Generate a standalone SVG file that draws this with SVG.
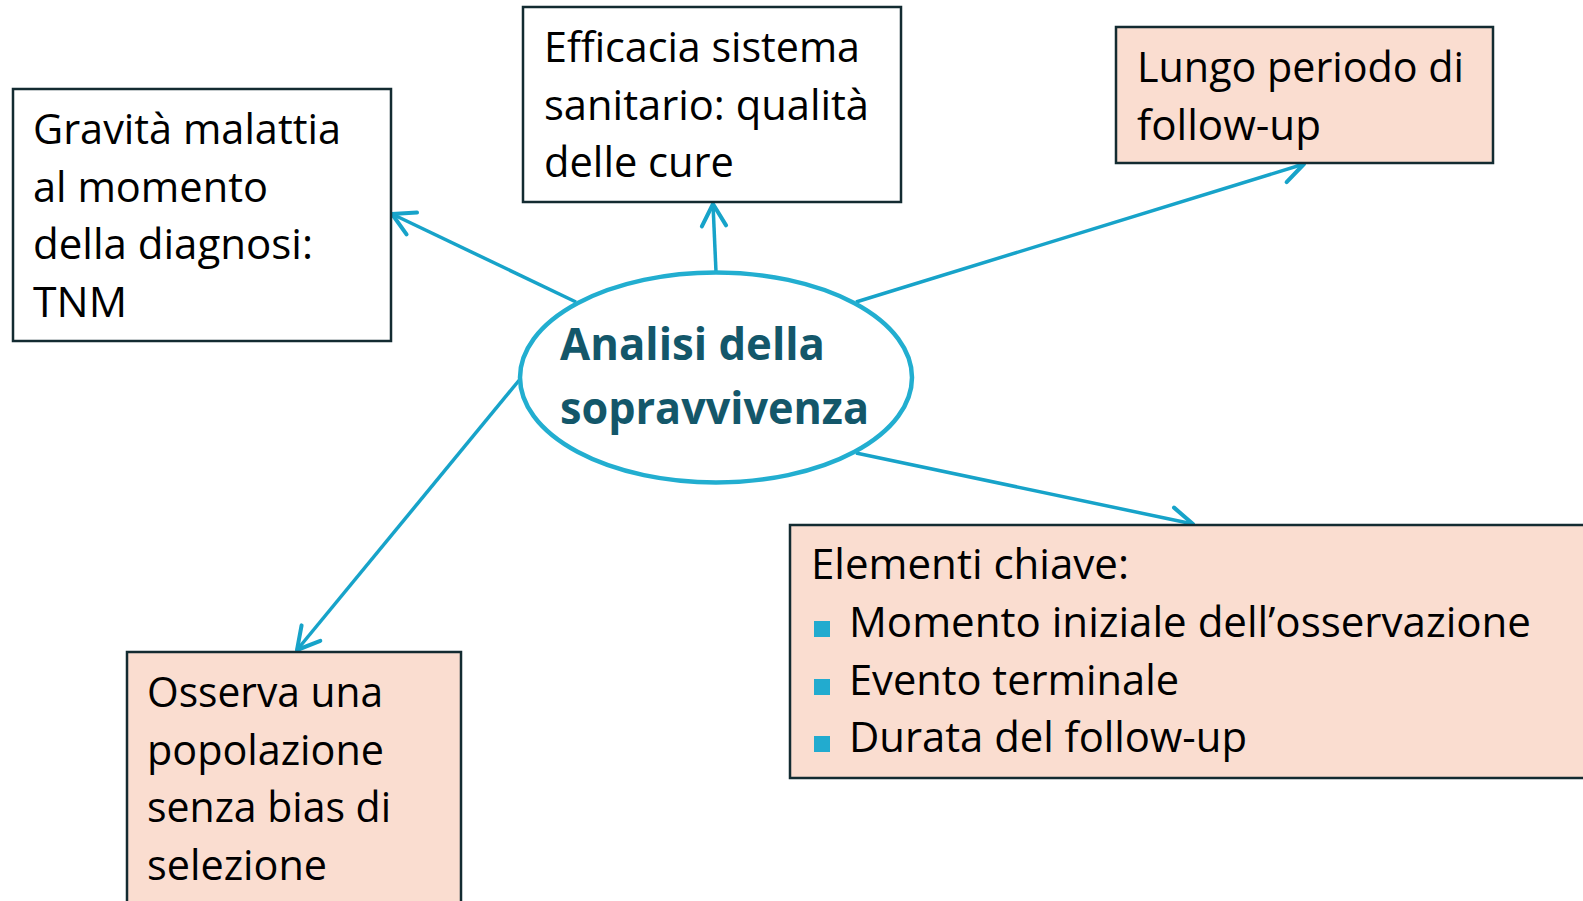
<svg xmlns="http://www.w3.org/2000/svg" width="1583" height="901" viewBox="0 0 1583 901">
<style>
.box{stroke:#132B31;stroke-width:2.5}
.white{fill:#FFFFFF}
.peach{fill:#FADDD0}
.t{font-family:"Open Sans","Noto Sans",sans-serif;font-size:42px;fill:#000000}
.title{font-family:"Open Sans","Noto Sans",sans-serif;font-size:44px;font-weight:bold;fill:#13576A}
.conn{stroke:#17A3C9;stroke-width:3.5;fill:none}
.bul{fill:#22ABCF}
</style>
<defs>
<marker id="arr" markerUnits="userSpaceOnUse" markerWidth="30" markerHeight="30" viewBox="-22 -13 26 26" refX="0" refY="0" orient="auto">
<path d="M-19,-10.5 L0,0 L-19,10.5" fill="none" stroke="#17A3C9" stroke-width="3.5" stroke-linecap="round" stroke-linejoin="round"/>
</marker>
</defs>
<rect width="1583" height="901" fill="#FFFFFF"/>
<g id="connectors">
<line class="conn" x1="576" y1="302" x2="392" y2="214" marker-end="url(#arr)"/>
<line class="conn" x1="716" y1="272" x2="713" y2="204" marker-end="url(#arr)"/>
<line class="conn" x1="856" y1="302" x2="1304" y2="164" marker-end="url(#arr)"/>
<line class="conn" x1="856" y1="453" x2="1193" y2="524" marker-end="url(#arr)"/>
<line class="conn" x1="521" y1="378" x2="297" y2="650" marker-end="url(#arr)"/>
</g>
<g id="node-gravita">
<rect class="box white" x="13" y="89" width="378" height="252"/>
<text class="t" x="33" y="144" textLength="308" lengthAdjust="spacingAndGlyphs">Gravità malattia</text>
<text class="t" x="33" y="201.5" textLength="235" lengthAdjust="spacingAndGlyphs">al momento</text>
<text class="t" x="33" y="259" textLength="280" lengthAdjust="spacingAndGlyphs">della diagnosi:</text>
<text class="t" x="33" y="316.5" textLength="94" lengthAdjust="spacingAndGlyphs">TNM</text>
</g>
<g id="node-efficacia">
<rect class="box white" x="523" y="7" width="378" height="195"/>
<text class="t" x="544" y="62" textLength="316" lengthAdjust="spacingAndGlyphs">Efficacia sistema</text>
<text class="t" x="544" y="119.5" textLength="325" lengthAdjust="spacingAndGlyphs">sanitario: qualità</text>
<text class="t" x="544" y="177" textLength="190" lengthAdjust="spacingAndGlyphs">delle cure</text>
</g>
<g id="node-lungo">
<rect class="box peach" x="1116" y="27" width="377" height="136"/>
<text class="t" x="1137" y="82" textLength="327" lengthAdjust="spacingAndGlyphs">Lungo periodo di</text>
<text class="t" x="1137" y="139.5" textLength="184" lengthAdjust="spacingAndGlyphs">follow-up</text>
</g>
<g id="node-elementi">
<rect class="box peach" x="790" y="525" width="820" height="253"/>
<text class="t" x="811" y="579" textLength="318" lengthAdjust="spacingAndGlyphs">Elementi chiave:</text>
<rect class="bul" x="814" y="621" width="16" height="16"/>
<text class="t" x="849" y="637" textLength="682" lengthAdjust="spacingAndGlyphs">Momento iniziale dell’osservazione</text>
<rect class="bul" x="814" y="679" width="16" height="16"/>
<text class="t" x="849" y="694.5" textLength="330" lengthAdjust="spacingAndGlyphs">Evento terminale</text>
<rect class="bul" x="814" y="736" width="16" height="16"/>
<text class="t" x="849" y="752" textLength="398" lengthAdjust="spacingAndGlyphs">Durata del follow-up</text>
</g>
<g id="node-osserva">
<rect class="box peach" x="127" y="652" width="334" height="300"/>
<text class="t" x="147" y="707" textLength="236" lengthAdjust="spacingAndGlyphs">Osserva una</text>
<text class="t" x="147" y="764.5" textLength="237" lengthAdjust="spacingAndGlyphs">popolazione</text>
<text class="t" x="147" y="822" textLength="244" lengthAdjust="spacingAndGlyphs">senza bias di</text>
<text class="t" x="147" y="879.5" textLength="180" lengthAdjust="spacingAndGlyphs">selezione</text>
</g>
<g id="node-center">
<ellipse cx="716" cy="377.5" rx="196" ry="105" fill="#FFFFFF" stroke="#22AED0" stroke-width="4.5"/>
<text class="title" x="560" y="360" textLength="265" lengthAdjust="spacingAndGlyphs">Analisi della</text>
<text class="title" x="560" y="424" textLength="309" lengthAdjust="spacingAndGlyphs">sopravvivenza</text>
</g>
</svg>
